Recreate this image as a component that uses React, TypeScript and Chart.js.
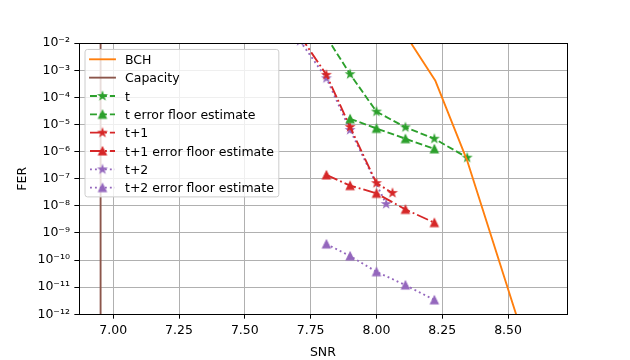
import React, { useEffect, useRef } from "react";
import { Chart, registerables } from "chart.js";
Chart.register(...registerables);

// ---- data ----
const bchSnr = [8.11, 8.224, 8.344, 8.64];
const bchFer = [2.1e-2, 4.1e-4, 4.9e-7, 4.6e-16];
const capacitySnr = [6.952, 6.952];
const capacityFer = [1e-14, 1];
const tSnr = [7.81, 7.9, 8.0, 8.11, 8.22, 8.345];
const tFer = [1.7e-2, 7.2e-4, 3.0e-5, 7.9e-6, 3.0e-6, 6.0e-7];
const tFloorSnr = [7.9, 8.0, 8.11, 8.22];
const tFloorFer = [1.62e-5, 7.2e-6, 3.0e-6, 1.26e-6];
const t1Snr = [7.71, 7.81, 7.9, 8.0, 8.061];
const t1Fer = [1.86e-2, 6.8e-4, 8.1e-6, 6.9e-8, 3.0e-8];
const t1FloorSnr = [7.81, 7.9, 8.0, 8.11, 8.22];
const t1FloorFer = [1.38e-7, 5.6e-8, 2.9e-8, 7.4e-9, 2.4e-9];
const t2Snr = [7.71, 7.81, 7.9, 8.037];
const t2Fer = [1.2e-2, 5.1e-4, 6.3e-6, 1.17e-8];
const t2FloorSnr = [7.81, 7.9, 8.0, 8.11, 8.22];
const t2FloorFer = [3.9e-10, 1.41e-10, 3.7e-11, 1.2e-11, 3.4e-12];

const seriesLabels = [
  "BCH",
  "Capacity",
  "t",
  "t error floor estimate",
  "t+1",
  "t+1 error floor estimate",
  "t+2",
  "t+2 error floor estimate",
];

const xTicks = [7.0, 7.25, 7.5, 7.75, 8.0, 8.25, 8.5];
const yTickExps = [-12, -11, -10, -9, -8, -7, -6, -5, -4, -3, -2];
const xMin = 6.869;
const xMax = 8.724;
const yMin = 1e-12;
const yMax = 1e-2;

// ---- styles ----
const FONT = '"DejaVu Sans"';
const FS = 12.5;
const LW = 1.875;
const C_ORANGE = "#ff7f0e";
const C_BROWN = "#8c564b";
const C_GREEN = "#2ca02c";
const C_RED = "#d62728";
const C_PURPLE = "#9467bd";
const DASHED = [6.94, 3.0];
const DASHDOT = [12.0, 3.0, 1.875, 3.0];
const DOTTED = [1.875, 3.09];

function makeMarker(shape: "star" | "tri", color: string): HTMLCanvasElement {
  const c = document.createElement("canvas");
  c.width = 18;
  c.height = 18;
  const ctx = c.getContext("2d")!;
  ctx.translate(9, 9);
  ctx.beginPath();
  const R = 3.75;
  if (shape === "star") {
    for (let i = 0; i < 10; i++) {
      const a = -Math.PI / 2 + (i * Math.PI) / 5;
      const r = i % 2 === 0 ? R : R * 0.381966;
      const px = r * Math.cos(a);
      const py = r * Math.sin(a);
      if (i === 0) ctx.moveTo(px, py);
      else ctx.lineTo(px, py);
    }
  } else {
    ctx.moveTo(0, -R);
    ctx.lineTo(-R, R);
    ctx.lineTo(R, R);
  }
  ctx.closePath();
  ctx.fillStyle = color;
  ctx.fill();
  ctx.lineWidth = 1.25;
  ctx.lineJoin = "miter";
  ctx.strokeStyle = color;
  ctx.stroke();
  return c;
}

const SUP: Record<string, string> = {
  "-": "\u207B",
  "0": "\u2070",
  "1": "\u00B9",
  "2": "\u00B2",
  "3": "\u00B3",
  "4": "\u2074",
  "5": "\u2075",
  "6": "\u2076",
  "7": "\u2077",
  "8": "\u2078",
  "9": "\u2079",
};
function sup(n: number): string {
  return String(n)
    .split("")
    .map((ch) => SUP[ch] || ch)
    .join("");
}

function pts(xs: number[], ys: number[]) {
  return xs.map((x, i) => ({ x, y: ys[i] }));
}

const frameBox = {
  id: "frameBox",
  afterDatasetsDraw(chart: any) {
    const { left, right, top, bottom } = chart.chartArea;
    const ctx = chart.ctx;
    ctx.save();
    ctx.strokeStyle = "#000";
    ctx.lineWidth = 1;
    ctx.strokeRect(Math.round(left) + 0.5, Math.round(top) + 0.5, Math.round(right) - Math.round(left), Math.round(bottom) - Math.round(top));
    ctx.restore();
  },
};

const mplLegend = {
  id: "mplLegend",
  afterDraw(chart: any) {
    const ctx = chart.ctx;
    const area = chart.chartArea;
    const x0 = area.left + 6.25;
    const y0 = area.top + 6.25;
    const y1 = 196.9;
    ctx.save();
    ctx.font = `${FS}px ${FONT}`;
    const dss = chart.data.datasets;
    const maxW = Math.max(...dss.map((d: any) => ctx.measureText(d.label).width));
    const handleX0 = x0 + 5;
    const handleX1 = handleX0 + 25;
    const textX = handleX1 + 10;
    const x1 = textX + maxW + 5;
    ctx.beginPath();
    if ((ctx as any).roundRect) (ctx as any).roundRect(x0, y0, x1 - x0, y1 - y0, 2.5);
    else ctx.rect(x0, y0, x1 - x0, y1 - y0);
    ctx.fillStyle = "rgba(255,255,255,0.8)";
    ctx.fill();
    ctx.lineWidth = 1;
    ctx.strokeStyle = "#cccccc";
    ctx.stroke();
    dss.forEach((ds: any, i: number) => {
      const y = 59.3 + i * 18.34;
      const dash = ds.borderDash || [];
      ctx.beginPath();
      ctx.setLineDash(dash);
      ctx.lineCap = dash.length ? "butt" : "square";
      ctx.moveTo(handleX0, y);
      ctx.lineTo(handleX1, y);
      ctx.strokeStyle = ds.borderColor;
      ctx.lineWidth = ds.borderWidth;
      ctx.stroke();
      ctx.setLineDash([]);
      if (ds.pointStyle && typeof ds.pointStyle === "object") {
        const m = ds.pointStyle as HTMLCanvasElement;
        ctx.drawImage(m, (handleX0 + handleX1) / 2 - m.width / 2, y - m.height / 2);
      }
      ctx.fillStyle = "#000";
      ctx.textBaseline = "alphabetic";
      ctx.textAlign = "left";
      ctx.fillText(ds.label, textX, y + 4.56);
    });
    ctx.restore();
  },
};

export default function App() {
  const ref = useRef<HTMLCanvasElement>(null);
  useEffect(() => {
    document.body.style.margin = "0";
    Chart.defaults.font.family = FONT;
    Chart.defaults.font.size = FS;
    Chart.defaults.color = "#000";

    const mk = (
      label: string,
      xs: number[],
      ys: number[],
      color: string,
      dash: number[],
      marker: HTMLCanvasElement | null
    ) => ({
      label,
      data: pts(xs, ys),
      borderColor: color,
      backgroundColor: color,
      borderWidth: LW,
      borderDash: dash,
      borderJoinStyle: "round" as const,
      borderCapStyle: dash.length ? ("butt" as const) : ("square" as const),
      pointStyle: marker ? marker : false,
      pointRadius: marker ? 4 : 0,
      pointHoverRadius: marker ? 4 : 0,
      tension: 0,
      fill: false,
      clip: 0,
    });

    const datasets: any[] = [
      mk(seriesLabels[0], bchSnr, bchFer, C_ORANGE, [], null),
      mk(seriesLabels[1], capacitySnr, capacityFer, C_BROWN, [], null),
      mk(seriesLabels[2], tSnr, tFer, C_GREEN, DASHED, makeMarker("star", C_GREEN)),
      mk(seriesLabels[3], tFloorSnr, tFloorFer, C_GREEN, DASHED, makeMarker("tri", C_GREEN)),
      mk(seriesLabels[4], t1Snr, t1Fer, C_RED, DASHDOT, makeMarker("star", C_RED)),
      mk(seriesLabels[5], t1FloorSnr, t1FloorFer, C_RED, DASHDOT, makeMarker("tri", C_RED)),
      mk(seriesLabels[6], t2Snr, t2Fer, C_PURPLE, DOTTED, makeMarker("star", C_PURPLE)),
      mk(seriesLabels[7], t2FloorSnr, t2FloorFer, C_PURPLE, DOTTED, makeMarker("tri", C_PURPLE)),
    ];

    const chart = new Chart(ref.current!, {
      type: "line",
      data: { datasets },
      options: {
        animation: false,
        responsive: false,
        devicePixelRatio: 1,
        events: [],
        layout: { padding: { left: 0, top: 43.2, right: 63, bottom: 0 } },
        plugins: {
          legend: { display: false },
          tooltip: { enabled: false },
        },
        scales: {
          x: {
            type: "linear",
            min: xMin,
            max: xMax,
            afterBuildTicks: (scale: any) => {
              scale.ticks = xTicks.map((v) => ({ value: v }));
            },
            afterFit: (scale: any) => {
              scale.height = 360 - 314.3;
            },
            ticks: {
              autoSkip: false,
              maxRotation: 0,
              padding: 4.4,
              color: "#000",
              font: { family: FONT, size: FS },
              callback: (v: any) => Number(v).toFixed(2),
            },
            grid: {
              color: "#b0b0b0",
              lineWidth: 1,
              tickColor: "#000",
              tickLength: 4.4,
              tickWidth: 1,
            },
            border: { display: false },
            title: {
              display: true,
              text: "SNR",
              color: "#000",
              font: { family: FONT, size: FS },
              padding: { top: 0, bottom: 0 },
            },
          },
          y: {
            type: "logarithmic",
            min: yMin,
            max: yMax,
            afterBuildTicks: (scale: any) => {
              scale.ticks = yTickExps.map((e) => ({ value: Math.pow(10, e) }));
            },
            afterFit: (scale: any) => {
              scale.width = 78.75;
            },
            ticks: {
              autoSkip: false,
              padding: 4.4,
              color: "#000",
              font: { family: FONT, size: FS },
              callback: (v: any) => "10" + sup(Math.round(Math.log10(Number(v)))),
            },
            grid: {
              color: "#b0b0b0",
              lineWidth: 1,
              tickColor: "#000",
              tickLength: 4.4,
              tickWidth: 1,
            },
            border: { display: false },
            title: {
              display: true,
              text: "FER",
              color: "#000",
              font: { family: FONT, size: FS },
              padding: { top: 15, bottom: 0 },
            },
          },
        },
      },
      plugins: [frameBox, mplLegend],
    } as any);
    return () => chart.destroy();
  }, []);
  return (
    <canvas
      ref={ref}
      width={630}
      height={360}
      style={{ display: "block", width: 630, height: 360 }}
    />
  );
}
